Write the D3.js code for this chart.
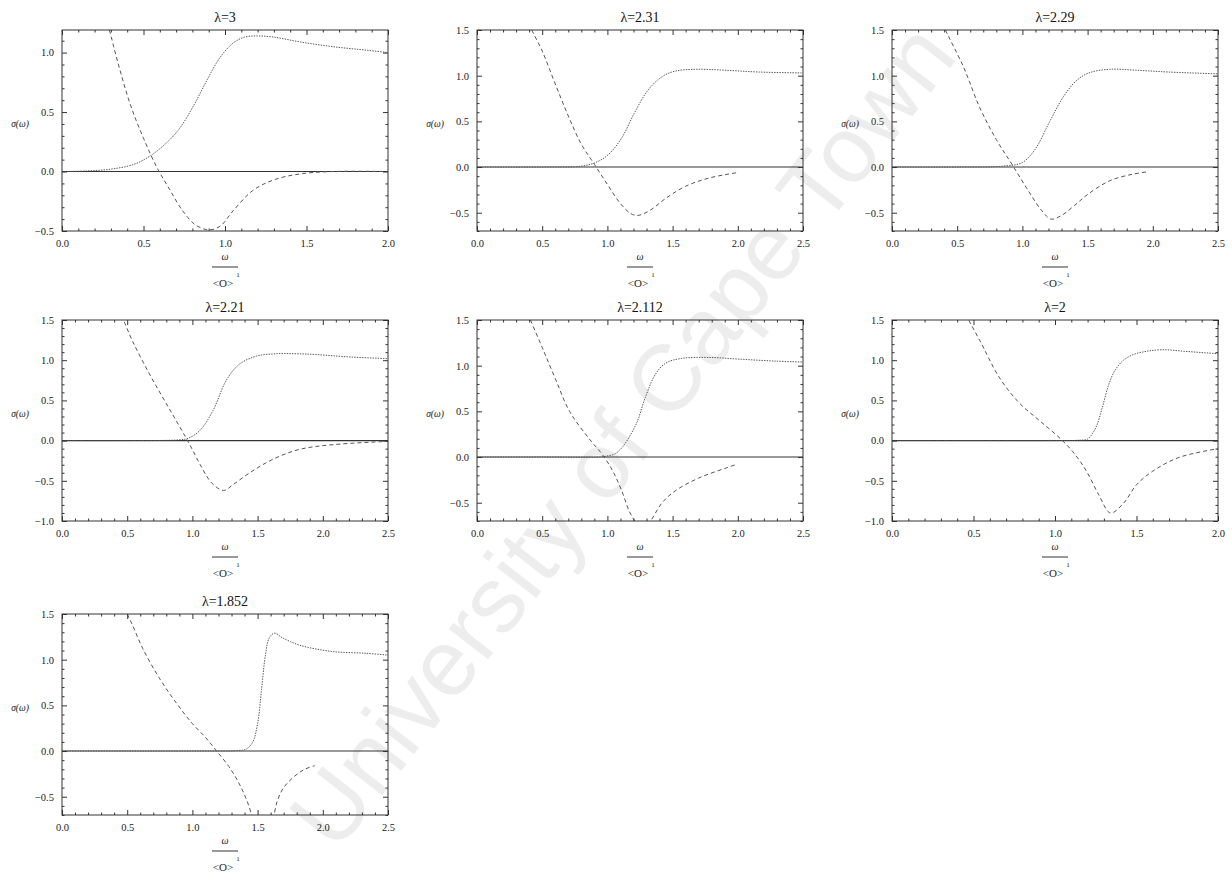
<!DOCTYPE html>
<html>
<head>
<meta charset="utf-8">
<script src="https://cdn.jsdelivr.net/npm/d3@7"></script>
<style>
  html, body { margin: 0; padding: 0; background: #fff; }
  svg { display: block; }
  svg text { font-family: "Liberation Serif", "Times New Roman", Tinos, "DejaVu Serif", "Noto Serif", serif; }
  svg text.wm { font-family: "Liberation Sans", Arial, sans-serif; }
</style>
</head>
<body>
<svg id="chart" width="1232" height="880"></svg>
<script>
// ---------- data ----------
const titles = ["λ=3", "λ=2.31", "λ=2.29", "λ=2.21", "λ=2.112", "λ=2", "λ=1.852"];
const xMaxes = [2.0, 2.5, 2.5, 2.5, 2.5, 2.0, 2.5];
const yMins  = [-0.5, -0.7, -0.7, -1.0, -0.7, -1.0, -0.7];
const yMaxes = [1.19, 1.5, 1.5, 1.5, 1.5, 1.5, 1.5];
const xTickStep = 0.5;
const yTickStep = 0.5;
const minorStep = 0.1;

// real part (rising curve), [ω/<O>, σ]
const re3    = [[0,0],[0.15,0.005],[0.3,0.02],[0.44,0.06],[0.54,0.13],[0.64,0.24],[0.72,0.36],[0.81,0.56],[0.89,0.77],[0.97,0.96],[1.05,1.08],[1.12,1.13],[1.2,1.14],[1.3,1.13],[1.46,1.09],[1.66,1.05],[1.87,1.02],[2.0,1.0]];
const re231  = [[0,0],[0.5,0],[0.8,0.01],[0.91,0.05],[1.01,0.14],[1.11,0.32],[1.21,0.6],[1.31,0.84],[1.42,0.99],[1.52,1.05],[1.68,1.07],[1.9,1.06],[2.16,1.04],[2.5,1.03]];
const re229  = [[0,0],[0.5,0],[0.85,0.01],[1.0,0.05],[1.1,0.2],[1.21,0.5],[1.31,0.76],[1.41,0.94],[1.51,1.03],[1.67,1.07],[1.87,1.06],[2.12,1.04],[2.5,1.02]];
const re221  = [[0,0],[0.5,0],[0.9,0.01],[0.97,0.03],[1.06,0.13],[1.16,0.38],[1.26,0.75],[1.36,0.95],[1.49,1.05],[1.64,1.08],[1.8,1.08],[1.95,1.07],[2.21,1.04],[2.5,1.02]];
const re2112 = [[0,0],[0.5,0],[0.95,0],[0.99,0.01],[1.05,0.03],[1.11,0.1],[1.22,0.36],[1.29,0.65],[1.37,0.91],[1.45,1.03],[1.57,1.08],[1.78,1.09],[2.03,1.07],[2.29,1.05],[2.5,1.04]];
const re2    = [[0,0],[0.5,0],[1.0,0],[1.15,0.005],[1.2,0.02],[1.25,0.16],[1.29,0.41],[1.33,0.7],[1.37,0.88],[1.42,1.0],[1.48,1.07],[1.56,1.11],[1.66,1.13],[1.8,1.11],[2.0,1.08]];
const re1852 = [[0,0],[0.5,0],[1.0,0],[1.35,0.005],[1.41,0.02],[1.46,0.09],[1.5,0.3],[1.53,0.67],[1.56,1.05],[1.59,1.24],[1.63,1.29],[1.69,1.24],[1.82,1.16],[2.07,1.09],[2.33,1.07],[2.5,1.05]];

// imaginary part (falling curve with a minimum)
const im3    = [[0.26,1.3],[0.29,1.19],[0.34,0.93],[0.42,0.56],[0.5,0.28],[0.58,0.04],[0.66,-0.15],[0.74,-0.33],[0.82,-0.45],[0.9,-0.49],[0.97,-0.46],[1.05,-0.33],[1.17,-0.16],[1.3,-0.07],[1.46,-0.02],[1.66,0],[2.0,0]];
const im231  = [[0.4,1.57],[0.42,1.5],[0.5,1.27],[0.6,0.91],[0.7,0.56],[0.8,0.25],[0.9,0.03],[1.0,-0.19],[1.1,-0.4],[1.18,-0.51],[1.23,-0.53],[1.32,-0.48],[1.45,-0.34],[1.6,-0.21],[1.78,-0.12],[2.0,-0.06]];
const im229  = [[0.39,1.57],[0.41,1.5],[0.55,1.09],[0.67,0.66],[0.8,0.3],[0.92,0.03],[1.05,-0.27],[1.15,-0.48],[1.22,-0.57],[1.3,-0.53],[1.4,-0.42],[1.5,-0.3],[1.67,-0.15],[1.84,-0.08],[1.97,-0.05]];
const im221  = [[0.45,1.55],[0.47,1.5],[0.54,1.24],[0.67,0.83],[0.8,0.46],[0.9,0.18],[0.98,-0.05],[1.06,-0.3],[1.15,-0.53],[1.24,-0.62],[1.31,-0.55],[1.44,-0.4],[1.62,-0.23],[1.82,-0.11],[2.08,-0.05],[2.5,-0.01]];
const im2112 = [[0.39,1.57],[0.41,1.5],[0.5,1.2],[0.6,0.86],[0.71,0.5],[0.86,0.2],[0.96,0.03],[1.04,-0.15],[1.11,-0.37],[1.17,-0.6],[1.22,-0.72],[1.27,-0.78],[1.32,-0.72],[1.42,-0.5],[1.52,-0.37],[1.7,-0.23],[1.91,-0.12],[1.99,-0.08]];
const im2    = [[0.45,1.57],[0.47,1.5],[0.54,1.24],[0.66,0.78],[0.78,0.47],[0.91,0.24],[1.03,0.03],[1.11,-0.14],[1.19,-0.37],[1.27,-0.68],[1.34,-0.9],[1.42,-0.78],[1.5,-0.55],[1.6,-0.38],[1.76,-0.21],[2.0,-0.1]];
const im1852 = [[0.48,1.57],[0.5,1.5],[0.54,1.38],[0.62,1.12],[0.75,0.79],[0.88,0.52],[1.0,0.3],[1.1,0.15],[1.18,0.01],[1.28,-0.17],[1.36,-0.36],[1.42,-0.55],[1.48,-0.8],[1.55,-1.0],[1.61,-0.8],[1.65,-0.55],[1.7,-0.4],[1.78,-0.28],[1.86,-0.2],[1.94,-0.16]];

const reSeries = [re3, re231, re229, re221, re2112, re2, re1852];
const imSeries = [im3, im231, im229, im221, im2112, im2, im1852];
const yLabel = "σ(ω)";
const watermark = "University of Cape Town";

// ---------- layout ----------
const colLeft = [62, 477, 892];
const rowTop = [30, 320, 614];
const panelW = 326, panelH = 201;

const svg = d3.select("#chart");

// watermark behind everything
svg.append("text")
  .attr("class", "wm")
  .attr("transform", "translate(628,440) rotate(-52)")
  .attr("text-anchor", "middle")
  .attr("dominant-baseline", "middle")
  .attr("font-size", 94)
  .attr("fill", "#ededed")
  .text(watermark);

const fmt = v => {
  const s = d3.format(".1f")(Math.abs(v) < 1e-9 ? 0 : v);
  return s.replace("-", "−");
};

titles.forEach((title, i) => {
  const col = i % 3, row = Math.floor(i / 3);
  const left = colLeft[col], top = rowTop[row];
  const g = svg.append("g").attr("transform", `translate(${left},${top})`);

  const x = d3.scaleLinear().domain([0, xMaxes[i]]).range([0, panelW]);
  const y = d3.scaleLinear().domain([yMins[i], yMaxes[i]]).range([panelH, 0]);

  const eps = 1e-6;
  const xMajor = d3.range(0, xMaxes[i] + eps, xTickStep);
  const xMinor = d3.range(0, xMaxes[i] + eps, minorStep).filter(v => !xMajor.some(m => Math.abs(m - v) < eps));
  const yStart = Math.ceil(yMins[i] / yTickStep - eps) * yTickStep;
  const yMajor = d3.range(yStart, yMaxes[i] + eps, yTickStep);
  const yMinStart = Math.ceil(yMins[i] / minorStep - eps) * minorStep;
  const yMinor = d3.range(yMinStart, yMaxes[i] + eps, minorStep).filter(v => !yMajor.some(m => Math.abs(m - v) < eps));

  const clipId = "clip" + i;
  g.append("clipPath").attr("id", clipId)
    .append("rect").attr("x", 0).attr("y", 0).attr("width", panelW).attr("height", panelH);

  const plot = g.append("g").attr("clip-path", `url(#${clipId})`);

  // zero line
  plot.append("line")
    .attr("x1", x(0)).attr("x2", x(xMaxes[i]))
    .attr("y1", y(0)).attr("y2", y(0))
    .attr("stroke", "#333").attr("stroke-width", 1.1);

  const line = d3.line().x(d => x(d[0])).y(d => y(d[1])).curve(d3.curveCatmullRom.alpha(0.5));

  plot.append("path").datum(reSeries[i])
    .attr("d", line).attr("fill", "none")
    .attr("stroke", "#555").attr("stroke-width", 1)
    .attr("stroke-dasharray", "1.4,1.2");

  plot.append("path").datum(imSeries[i])
    .attr("d", line).attr("fill", "none")
    .attr("stroke", "#555").attr("stroke-width", 1)
    .attr("stroke-dasharray", "4,3");

  // axes (inward ticks on all four sides)
  const styleAxis = sel => {
    sel.attr("font-family", null);
    sel.select(".domain").remove();
    sel.selectAll(".tick line").attr("stroke", "#333").attr("stroke-width", 1);
    sel.selectAll("text").attr("font-size", 10.5).attr("fill", "#222");
  };

  g.append("g").attr("transform", `translate(0,${panelH})`)
    .call(d3.axisBottom(x).tickValues(xMajor).tickSize(-5).tickPadding(9).tickFormat(fmt))
    .call(styleAxis);
  g.append("g").attr("transform", `translate(0,${panelH})`)
    .call(d3.axisBottom(x).tickValues(xMinor).tickSize(-2.5).tickFormat(""))
    .call(styleAxis);
  g.append("g")
    .call(d3.axisTop(x).tickValues(xMajor).tickSize(-5).tickFormat(""))
    .call(styleAxis);
  g.append("g")
    .call(d3.axisTop(x).tickValues(xMinor).tickSize(-2.5).tickFormat(""))
    .call(styleAxis);

  g.append("g")
    .call(d3.axisLeft(y).tickValues(yMajor).tickSize(-5).tickPadding(8).tickFormat(fmt))
    .call(styleAxis);
  g.append("g")
    .call(d3.axisLeft(y).tickValues(yMinor).tickSize(-2.5).tickFormat(""))
    .call(styleAxis);
  g.append("g").attr("transform", `translate(${panelW},0)`)
    .call(d3.axisRight(y).tickValues(yMajor).tickSize(-5).tickFormat(""))
    .call(styleAxis);
  g.append("g").attr("transform", `translate(${panelW},0)`)
    .call(d3.axisRight(y).tickValues(yMinor).tickSize(-2.5).tickFormat(""))
    .call(styleAxis);

  // frame
  g.append("rect").attr("x", 0).attr("y", 0).attr("width", panelW).attr("height", panelH)
    .attr("fill", "none").attr("stroke", "#333").attr("stroke-width", 1);

  // title
  g.append("text")
    .attr("x", panelW / 2).attr("y", -8)
    .attr("text-anchor", "middle")
    .attr("font-size", 14).attr("fill", "#111")
    .text(title);

  // y label
  g.append("text")
    .attr("x", -42).attr("y", panelH / 2 - 4)
    .attr("text-anchor", "middle")
    .attr("font-size", 9.5).attr("font-style", "italic").attr("fill", "#222")
    .text(yLabel);

  // x label: ω / <O>^1
  const cx = panelW / 2;
  g.append("text")
    .attr("x", cx).attr("y", panelH + 29)
    .attr("text-anchor", "middle")
    .attr("font-size", 10).attr("font-style", "italic").attr("fill", "#222")
    .text("ω");
  g.append("line")
    .attr("x1", cx - 13).attr("x2", cx + 13)
    .attr("y1", panelH + 36).attr("y2", panelH + 36)
    .attr("stroke", "#333").attr("stroke-width", 1);
  g.append("text")
    .attr("x", cx - 2).attr("y", panelH + 56)
    .attr("text-anchor", "middle")
    .attr("font-size", 11).attr("fill", "#222")
    .text("<O>");
  g.append("text")
    .attr("x", cx + 13).attr("y", panelH + 46)
    .attr("text-anchor", "middle")
    .attr("font-size", 7).attr("fill", "#222")
    .text("1");
});
</script>
</body>
</html>
